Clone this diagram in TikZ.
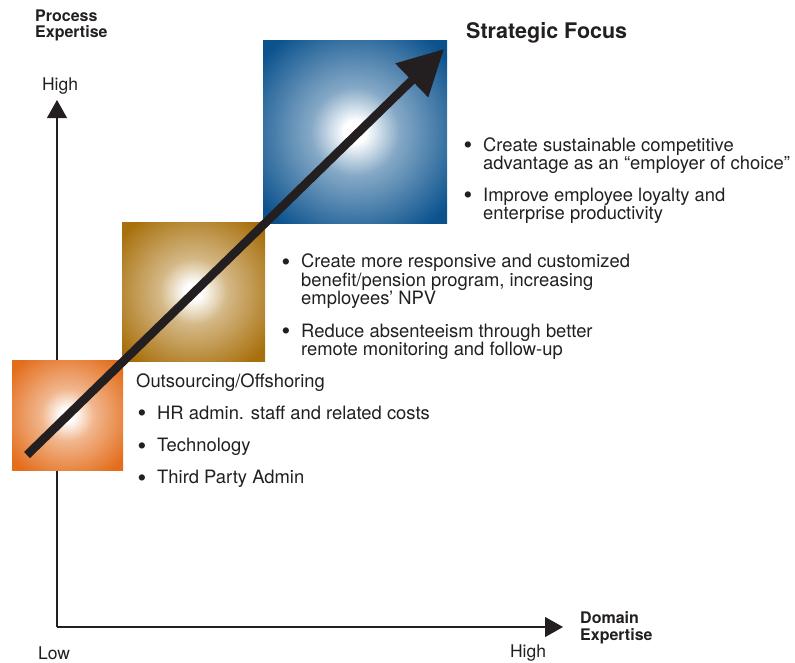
\documentclass[tikz,border=0pt]{standalone}
\usepackage{fontspec}
\setmainfont{TeX Gyre Heros}
\usepackage{tikz}
\usetikzlibrary{arrows.meta, positioning}

\definecolor{orangefill}{HTML}{E36D1B}
\definecolor{goldfill}{HTML}{A8700C}
\definecolor{bluefill}{HTML}{0C538E}
\definecolor{inkgray}{HTML}{231F20}

% radial glow for the three squares
\pgfdeclareradialshading{orangeglow}{\pgfpoint{0bp}{0bp}}{color(0bp)=(white); color(3bp)=(white); color(12bp)=(orangefill!50); color(32bp)=(orangefill); color(100bp)=(orangefill)}
\pgfdeclareradialshading{goldglow}{\pgfpoint{0bp}{0bp}}{color(0bp)=(white); color(3bp)=(white); color(12bp)=(goldfill!50); color(32bp)=(goldfill); color(100bp)=(goldfill)}
\pgfdeclareradialshading{blueglow}{\pgfpoint{0bp}{0bp}}{color(0bp)=(white); color(3bp)=(white); color(12bp)=(bluefill!50); color(32bp)=(bluefill); color(100bp)=(bluefill)}

\newcommand{\bul}{\llap{\raisebox{-2.4pt}{\scalebox{1.35}{\textbullet}}\hspace{11pt}}}

\begin{document}
\begin{tikzpicture}[x=1pt, y=-1pt,
    txt/.style={font=\fontsize{18.4}{18.4}\selectfont, text=inkgray, align=left, inner sep=0pt, anchor=west},
    axislbl/.style={font=\fontsize{17.5}{18}\selectfont, text=inkgray, inner sep=0pt},
    axistitle/.style={font=\fontsize{16}{16.8}\selectfont\bfseries, text=inkgray, align=left, inner sep=0pt, anchor=west},
    glowbox/.style={shade, inner sep=0pt, draw=none},
    axis/.style={line width=1.1pt, draw=inkgray, -{Triangle[length=18pt,width=20pt]}},
    bigarrow/.style={line width=8.5pt, draw=inkgray, -{Triangle[length=45pt,width=45pt]}}]
    \useasboundingbox (0,0) rectangle (795,662);

    % Axes
    \coordinate (origin) at (57,627);
    \coordinate (ytop) at (57,100);
    \coordinate (xend) at (563,627);
    \draw[axis] (origin) -- (ytop);
    \draw[axis] (origin) -- (xend);
    \node[axistitle] (ptitle) at (35,25.5) {Process\\Expertise};
    \node[axislbl] (yhigh) at (60,86) {High};
    \node[axislbl] (xlow) at (54,653) {Low};
    \node[axislbl] (xhigh) at (528,653) {High};
    \node[axistitle] (dtitle) at (580,628) {Domain\\Expertise};

    % Squares
    \node[glowbox, shading=orangeglow, minimum width=111pt, minimum height=110pt] (sqorange) at (67.5,415) {};
    \node[glowbox, shading=goldglow, minimum width=143pt, minimum height=139pt] (sqgold) at (193.5,291.5) {};
    \node[glowbox, shading=blueglow, minimum width=184pt, minimum height=183pt] (sqblue) at (355,131.5) {};

    % Strategic arrow
    \coordinate (tail) at (27,455);
    \coordinate (head) at (444,49);
    \draw[bigarrow] (tail) -- (head);

    % Strategic level
    \node[txt, font=\fontsize{21.5}{22}\selectfont\bfseries] (focus) at (466,33) {Strategic Focus};
    \node[txt] (blue1) at (483,155.5) {\bul Create sustainable competitive\\advantage as an “employer of choice”};
    \node[txt] (blue2) at (483,206) {\bul Improve employee loyalty and\\enterprise productivity};

    % Middle level
    \node[txt] (gold1) at (301,281.5) {\bul Create more responsive and customized\\benefit/pension program, increasing\\employees’ NPV};
    \node[txt] (gold2) at (301,341.5) {\bul Reduce absenteeism through better\\remote monitoring and follow-up};

    % Operational level
    \node[txt] (outs) at (136,383) {Outsourcing/Offshoring};
    \node[txt] (orange1) at (157,414) {\bul HR admin. staff and related costs};
    \node[txt] (orange2) at (157,447) {\bul Technology};
    \node[txt] (orange3) at (157,479) {\bul Third Party Admin};
\end{tikzpicture}
\end{document}
